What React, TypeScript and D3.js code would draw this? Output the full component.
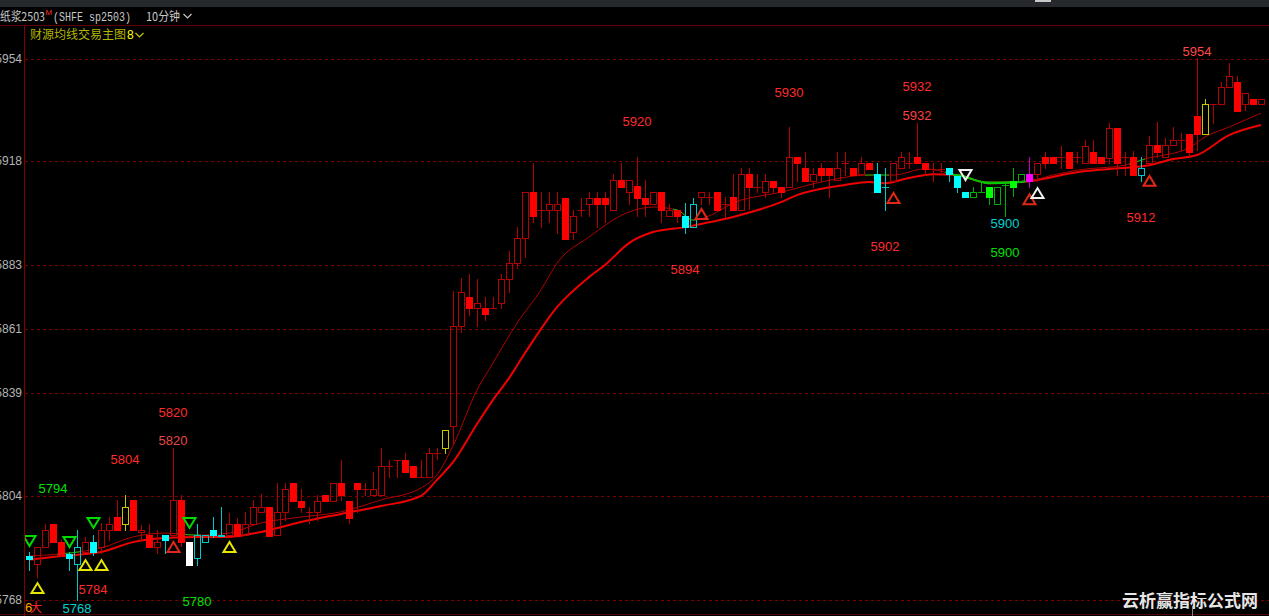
import React, { useEffect } from 'react';
import * as d3 from 'd3';

// 10-minute bars, sp2503 pulp
const open = [
  5783.1, 5780.4, 5786.2, 5794.1, 5787.9, 5783.8, 5780.4, 5784.5, 5787.9, 5786.2,
  5792.1, 5796.5, 5794.1, 5802.4, 5791.4, 5790.3, 5786.2, 5790.3, 5790.3, 5802.4,
  5787.9, 5782.4, 5787.9, 5792.1, 5790.0, 5790.3, 5794.1, 5790.3, 5794.1, 5798.3,
  5800.0, 5790.3, 5798.3, 5808.2, 5802.0, 5798.3, 5798.3, 5804.1, 5802.0, 5808.2,
  5802.0, 5808.2, 5806.2, 5804.1, 5804.1, 5814.1, 5816.1, 5816.1, 5814.1, 5810.3,
  5810.3, 5818.5, 5820.3, 5827.8, 5862.2, 5872.2, 5868.4, 5868.4, 5868.4, 5870.1,
  5878.4, 5883.9, 5892.4, 5908.3, 5902.1, 5902.1, 5902.1, 5906.2, 5894.5, 5902.1,
  5904.1, 5906.2, 5906.2, 5902.1, 5912.4, 5908.3, 5910.3, 5906.2, 5904.1, 5908.3,
  5900.0, 5902.1, 5900.0, 5896.2, 5906.5, 5906.5, 5908.3, 5904.1, 5906.5, 5902.1,
  5914.4, 5910.0, 5908.3, 5912.1, 5910.0, 5910.0, 5920.3, 5916.5, 5912.1, 5916.5,
  5916.5, 5912.4, 5918.2, 5916.5, 5914.4, 5918.2, 5914.4, 5910.0, 5912.1, 5916.5,
  5918.2, 5920.3, 5918.2, 5916.2, 5916.2, 5916.5, 5913.8, 5908.3, 5906.5, 5908.3,
  5910.0, 5904.1, 5910.7, 5912.1, 5912.1, 5914.4, 5914.4, 5920.3, 5920.3, 5920.3,
  5922.0, 5920.3, 5918.2, 5922.0, 5920.3, 5920.0, 5930.3, 5920.3, 5920.3, 5914.1,
  5918.2, 5924.4, 5920.3, 5924.4, 5926.1, 5928.2, 5934.4, 5928.2, 5938.5, 5938.5,
  5944.3, 5946.1, 5938.5, 5940.2, 5938.5,
];
const high = [
  5784.5, 5786.2, 5794.1, 5794.1, 5788.6, 5784.5, 5792.1, 5789.7, 5790.3, 5794.5,
  5796.5, 5802.4, 5804.1, 5802.4, 5793.8, 5794.1, 5792.1, 5790.3, 5820.3, 5804.1,
  5787.9, 5794.1, 5790.3, 5796.5, 5800.0, 5797.9, 5796.2, 5798.3, 5802.4, 5804.4,
  5800.0, 5808.2, 5808.2, 5808.2, 5806.2, 5800.0, 5804.1, 5804.1, 5808.2, 5816.1,
  5802.0, 5808.2, 5808.2, 5812.0, 5820.3, 5816.1, 5816.1, 5818.5, 5814.1, 5816.1,
  5820.3, 5820.3, 5826.4, 5874.2, 5878.7, 5880.1, 5878.4, 5872.2, 5872.2, 5880.1,
  5888.0, 5896.2, 5908.3, 5918.2, 5908.3, 5908.3, 5908.3, 5906.2, 5902.1, 5906.2,
  5908.3, 5908.3, 5908.3, 5914.4, 5918.2, 5912.4, 5920.3, 5912.4, 5908.3, 5908.3,
  5904.1, 5902.1, 5904.5, 5906.2, 5908.3, 5908.3, 5908.3, 5906.5, 5914.4, 5916.5,
  5916.5, 5914.4, 5914.4, 5912.1, 5910.0, 5930.6, 5920.3, 5922.0, 5916.5, 5918.2,
  5916.5, 5922.0, 5922.0, 5916.5, 5920.3, 5918.2, 5918.2, 5916.5, 5918.2, 5922.0,
  5922.0, 5932.0, 5918.2, 5918.2, 5918.2, 5916.5, 5913.8, 5908.3, 5910.0, 5912.1,
  5910.0, 5910.0, 5911.4, 5916.5, 5914.4, 5920.3, 5918.2, 5922.0, 5920.3, 5924.1,
  5922.0, 5922.0, 5926.1, 5926.1, 5920.3, 5932.0, 5930.3, 5922.0, 5922.4, 5920.3,
  5927.5, 5932.3, 5926.8, 5930.6, 5928.5, 5928.2, 5954.3, 5940.2, 5938.5, 5946.1,
  5952.6, 5948.1, 5942.3, 5940.2, 5940.2,
];
const low = [
  5778.3, 5775.9, 5786.2, 5787.9, 5783.1, 5778.3, 5768.0, 5784.5, 5783.5, 5784.2,
  5788.6, 5792.1, 5792.1, 5792.1, 5788.6, 5786.2, 5784.2, 5784.2, 5790.3, 5786.6,
  5780.0, 5780.0, 5787.9, 5789.7, 5790.0, 5790.3, 5790.0, 5790.3, 5794.1, 5798.3,
  5790.0, 5790.3, 5795.5, 5802.0, 5798.3, 5794.5, 5795.5, 5802.0, 5802.0, 5802.4,
  5794.5, 5798.3, 5804.1, 5804.1, 5804.1, 5810.3, 5810.3, 5812.0, 5810.3, 5810.3,
  5810.3, 5816.5, 5818.5, 5822.0, 5860.1, 5866.0, 5862.2, 5864.3, 5868.4, 5868.4,
  5873.9, 5882.1, 5885.9, 5898.0, 5896.2, 5898.0, 5894.2, 5892.1, 5892.1, 5900.0,
  5900.0, 5896.2, 5898.0, 5902.1, 5910.0, 5904.1, 5900.0, 5900.0, 5904.1, 5898.0,
  5900.0, 5898.0, 5894.2, 5896.2, 5904.1, 5904.1, 5902.1, 5899.7, 5902.1, 5902.1,
  5902.4, 5908.3, 5906.5, 5908.3, 5906.5, 5910.0, 5912.1, 5912.1, 5910.0, 5912.1,
  5906.5, 5912.4, 5914.1, 5914.1, 5914.4, 5916.2, 5908.3, 5902.1, 5912.1, 5916.5,
  5916.5, 5918.2, 5914.1, 5912.1, 5915.1, 5912.1, 5908.3, 5906.5, 5906.5, 5908.3,
  5904.1, 5904.1, 5900.0, 5906.9, 5912.1, 5910.0, 5912.1, 5916.5, 5918.2, 5916.5,
  5916.5, 5918.2, 5918.2, 5918.2, 5918.2, 5918.2, 5914.1, 5914.1, 5914.1, 5912.1,
  5918.2, 5920.3, 5920.3, 5924.4, 5922.7, 5920.3, 5922.7, 5928.2, 5932.0, 5938.5,
  5944.3, 5936.1, 5936.4, 5938.5, 5938.5,
];
const close = [
  5782.1, 5786.2, 5792.1, 5787.9, 5783.8, 5782.4, 5786.2, 5787.9, 5784.5, 5792.1,
  5794.1, 5792.1, 5800.0, 5792.1, 5792.1, 5786.2, 5787.9, 5788.6, 5802.4, 5787.9,
  5780.0, 5790.3, 5790.3, 5790.3, 5790.3, 5794.1, 5790.0, 5794.1, 5800.0, 5800.0,
  5790.0, 5798.3, 5806.2, 5802.0, 5800.0, 5798.3, 5802.0, 5802.0, 5808.2, 5804.1,
  5796.2, 5806.2, 5806.2, 5806.2, 5814.1, 5814.1, 5816.1, 5812.0, 5810.3, 5810.3,
  5818.5, 5818.5, 5826.4, 5862.2, 5873.9, 5868.4, 5870.1, 5866.3, 5868.4, 5878.4,
  5883.9, 5892.4, 5908.3, 5900.0, 5902.1, 5904.1, 5904.1, 5892.1, 5900.0, 5902.1,
  5906.2, 5904.1, 5904.1, 5912.4, 5910.0, 5912.4, 5906.2, 5904.1, 5908.3, 5902.1,
  5902.1, 5900.0, 5896.2, 5904.1, 5908.3, 5906.5, 5902.1, 5904.1, 5902.1, 5914.4,
  5910.0, 5910.0, 5912.1, 5910.0, 5908.3, 5920.3, 5918.2, 5912.1, 5914.4, 5914.1,
  5914.1, 5916.5, 5918.2, 5914.1, 5918.2, 5916.2, 5908.3, 5910.0, 5918.2, 5920.3,
  5918.2, 5918.2, 5916.2, 5916.2, 5916.2, 5914.4, 5910.0, 5906.5, 5908.3, 5908.3,
  5906.5, 5910.0, 5910.7, 5910.0, 5914.4, 5912.1, 5918.2, 5918.2, 5918.2, 5920.3,
  5916.5, 5920.3, 5924.1, 5918.2, 5918.2, 5930.3, 5918.2, 5920.3, 5914.1, 5916.5,
  5924.4, 5922.0, 5924.4, 5926.1, 5926.1, 5922.0, 5928.2, 5938.5, 5938.5, 5944.3,
  5948.1, 5936.1, 5942.3, 5938.5, 5940.2,
];

// indicator colour state per bar, as runs
const colorRuns: [string, number][] = [
  ['c', 1], ['r', 4], ['c', 2], ['r', 1], ['c', 1], ['r', 3], ['y', 1], ['r', 4], ['c', 1],
  ['r', 2], ['w', 1], ['c', 4], ['r', 27], ['y', 1], ['r', 29], ['c', 2], ['r', 22], ['c', 2],
  ['r', 7], ['c', 3], ['g', 7], ['m', 1], ['r', 13], ['c', 1], ['r', 7], ['y', 1], ['r', 7],
];

// moving averages (sampled at bar index)
const fastIdx = [0, 9, 13, 17, 21, 25, 29, 34, 39, 44, 49, 51, 53, 56, 58, 61, 64, 66, 70, 75, 78, 81, 83, 89, 94, 99, 105, 108, 112, 116, 120, 124, 128, 131, 137, 140, 142, 145, 147, 150, 154];
const fastVal = [5783.1, 5785.9, 5789.7, 5791.0, 5790.3, 5791.0, 5794.5, 5796.5, 5798.3, 5802.4, 5806.5, 5811.0, 5821.0, 5840.2, 5849.5, 5863.2, 5874.6, 5883.8, 5892.8, 5901.4, 5903.1, 5902.1, 5898.6, 5905.5, 5908.2, 5911.7, 5914.1, 5914.1, 5916.2, 5914.1, 5911.7, 5911.7, 5914.1, 5915.8, 5917.5, 5920.0, 5921.0, 5923.4, 5927.2, 5930.6, 5935.4];
const slowIdx = [0, 4, 9, 13, 17, 21, 25, 29, 34, 39, 44, 49, 51, 53, 56, 58, 60, 62, 66, 70, 72, 75, 78, 82, 84, 88, 94, 96, 102, 105, 107, 110, 113, 116, 120, 125, 131, 135, 140, 143, 146, 150, 154];
const slowVal = [5781.8, 5783.1, 5784.5, 5787.9, 5789.3, 5789.7, 5789.7, 5791.4, 5794.8, 5797.6, 5800.3, 5803.8, 5809.3, 5815.4, 5828.5, 5836.8, 5844.3, 5852.9, 5868.7, 5879.0, 5883.2, 5890.7, 5894.5, 5896.2, 5897.3, 5899.7, 5904.8, 5907.2, 5910.7, 5911.7, 5911.3, 5913.1, 5914.4, 5914.1, 5911.3, 5912.0, 5915.1, 5916.2, 5917.5, 5919.6, 5921.0, 5927.8, 5931.3];
const fastGreen: [number, number][] = [[4, 6], [19, 21], [81, 83], [105, 107], [115, 125], [138, 139]];
const slowGreen: [number, number][] = [[116, 124]];

// signal triangles
const sigIdx = [0, 1, 5, 7, 8, 9, 18, 20, 25, 84, 108, 117, 125, 126, 140];
const sigPrice = [5788.3, 5772.1, 5787.9, 5780.0, 5794.5, 5780.0, 5786.2, 5794.5, 5786.2, 5900.7, 5906.2, 5914.1, 5905.8, 5907.9, 5912.1];
const sigDir = ['down', 'up', 'down', 'up', 'down', 'up', 'up', 'down', 'up', 'up', 'up', 'down', 'up', 'up', 'up'];
const sigColor = ['#00dc00', '#e6e600', '#00dc00', '#e6e600', '#00dc00', '#e6e600', '#e02818', '#00dc00', '#e6e600', '#e02818', '#e02818', '#f0f0f0', '#e02818', '#f0f0f0', '#e02818'];

// price annotations
const noteText = ['5794', '5804', '5820', '5820', '5784', '5768', '5780', '5920', '5894', '5930', '5932', '5932', '5902', '5900', '5900', '5912', '5954'];
const noteIdx = [3, 12, 18, 18, 8, 6, 21, 76, 82, 95, 111, 111, 107, 122, 122, 139, 146];
const notePrice = [5804.8, 5814.8, 5830.9, 5821.3, 5770.1, 5763.5, 5766.0, 5930.9, 5880.1, 5940.9, 5943.0, 5933.0, 5888.0, 5895.9, 5885.9, 5897.9, 5955.0];
const noteColor = ['#00e000', '#ff2a2a', '#ff2a2a', '#e84848', '#ff2a2a', '#00d0d0', '#00e000', '#ff2a2a', '#ff2a2a', '#ff2a2a', '#ff2a2a', '#ff4040', '#ff2a2a', '#00d0d0', '#00e000', '#ff2a2a', '#ff4848'];

const tickValues = [5768, 5803.8, 5839.2, 5861.2, 5883.2, 5918.9, 5954];
const tickLabels = ['5768', '5804', '5839', '5861', '5883', '5918', '5954'];

const palette: Record<string, { fill: string; stroke: string; wick: string }> = {
  r: { fill: '#ff0000', stroke: '#b40000', wick: '#b40000' },
  c: { fill: '#00ffff', stroke: '#00c8c8', wick: '#00c8c8' },
  g: { fill: '#00ff00', stroke: '#00b000', wick: '#00b000' },
  y: { fill: '#c8c800', stroke: '#c8c800', wick: '#c8c800' },
  w: { fill: '#ffffff', stroke: '#ffffff', wick: '#ffffff' },
  m: { fill: '#ff00ff', stroke: '#ff00ff', wick: '#c000c0' },
};

const W = 1269;
const H = 616;

const App: React.FC = () => {
  useEffect(() => {
    document.body.style.margin = '0';
    document.body.style.background = '#000';
  }, []);

  const colors: string[] = colorRuns.flatMap(([c, n]) => Array.from({ length: n }, () => c));
  const xc = d3.scaleLinear().domain([0, open.length - 1]).range([29, 1261]);
  const y = d3.scaleLinear().domain([5768, 5954]).range([600, 59]);
  const py = (v: number) => Math.round(y(v));

  const fastLine = d3
    .line<number>()
    .x((_, k) => xc(fastIdx[k]))
    .y((d) => y(d))
    .curve(d3.curveMonotoneX);
  const slowLine = d3
    .line<number>()
    .x((_, k) => xc(slowIdx[k]))
    .y((d) => y(d))
    .curve(d3.curveMonotoneX);

  const numFont = '"Liberation Sans", Arial, sans-serif';
  const cjkFont = '"Noto Sans CJK SC", sans-serif';

  return (
    <svg width={W} height={H} style={{ display: 'block', background: '#000' }}>
      <defs>
        <clipPath id="plot">
          <rect x={25} y={26} width={W - 25} height={H - 26} />
        </clipPath>
        <clipPath id="fastG">
          {fastGreen.map(([a, b], k) => (
            <rect key={k} x={xc(a) - 4} y={0} width={xc(b) - xc(a) + 8} height={H} />
          ))}
        </clipPath>
        <clipPath id="slowG">
          {slowGreen.map(([a, b], k) => (
            <rect key={k} x={xc(a) - 4} y={0} width={xc(b) - xc(a) + 8} height={H} />
          ))}
        </clipPath>
      </defs>

      {/* title bar */}
      <rect x={0} y={0} width={W} height={7} fill="#25282c" />
      <rect x={1035} y={0} width={16} height={2} fill="#c8c8c8" />
      <text x={0} y={21} fill="#c8c8c8" fontFamily={cjkFont} fontSize={12} textLength={45} lengthAdjust="spacingAndGlyphs">纸浆2503</text>
      <text x={45.5} y={15} fill="#ff3030" fontFamily={numFont} fontSize={8}>M</text>
      <text x={53} y={21} fill="#c8c8c8" fontFamily='"Liberation Mono", monospace' fontSize={12} textLength={78} lengthAdjust="spacingAndGlyphs">(SHFE sp2503)</text>
      <text x={146} y={21} fill="#c8c8c8" fontFamily={cjkFont} fontSize={12} textLength={34} lengthAdjust="spacingAndGlyphs">10分钟</text>
      <polyline points="183.5,14 187.5,18 191.5,14" fill="none" stroke="#c8c8c8" strokeWidth={1.2} />

      <line x1={0} x2={W} y1={25.5} y2={25.5} stroke="#640000" />
      <line x1={24.5} x2={24.5} y1={25} y2={H} stroke="#800000" />
      <line x1={0} x2={W} y1={614.5} y2={614.5} stroke="#500000" />

      <text x={30} y={39} fill="#b4b400" fontFamily={cjkFont} fontSize={12} textLength={96} lengthAdjust="spacingAndGlyphs">财源均线交易主图</text>
      <text x={127} y={39} fill="#ffff00" fontFamily={numFont} fontSize={12}>8</text>
      <polyline points="135.5,33 139.5,37 143.5,33" fill="none" stroke="#c8c800" strokeWidth={1.2} />

      {/* grid and axis labels */}
      {tickValues.map((v, k) => (
        <g key={k}>
          <line x1={25} x2={W} y1={py(v) + 0.5} y2={py(v) + 0.5} stroke="#7a0000" strokeDasharray="3,3" />
          <text x={22} y={py(v) + 4} textAnchor="end" fill="#b4b4b4" fontFamily={numFont} fontSize={12}>
            {tickLabels[k]}
          </text>
        </g>
      ))}

      <g clipPath="url(#plot)">
        {/* moving averages */}
        <path d={slowLine(slowVal) || ''} fill="none" stroke="#f00000" strokeWidth={2} />
        <path d={fastLine(fastVal) || ''} fill="none" stroke="#b00000" strokeWidth={1} />
        <path d={slowLine(slowVal) || ''} fill="none" stroke="#00d000" strokeWidth={2} clipPath="url(#slowG)" />
        <path d={fastLine(fastVal) || ''} fill="none" stroke="#00c000" strokeWidth={1} clipPath="url(#fastG)" />

        {/* candles */}
        <g shapeRendering="crispEdges">
          {open.map((o, i) => {
            const c = close[i];
            const p = palette[colors[i]] || palette.r;
            const px = Math.round(xc(i));
            const yH = py(high[i]);
            const yL = py(low[i]);
            const yT = py(Math.max(o, c));
            const yB = py(Math.min(o, c));
            const wx = px + 0.5;
            if (yB - yT < 1) {
              return (
                <g key={i}>
                  <line x1={wx} x2={wx} y1={yH} y2={yL + 1} stroke={p.wick} />
                  <line x1={px - 3} x2={px + 4} y1={yT + 0.5} y2={yT + 0.5} stroke={p.stroke} />
                </g>
              );
            }
            if (c >= o) {
              return (
                <g key={i}>
                  <line x1={wx} x2={wx} y1={yH} y2={yT} stroke={p.wick} />
                  <line x1={wx} x2={wx} y1={yB} y2={yL + 1} stroke={p.wick} />
                  <rect x={px - 2.5} y={yT + 0.5} width={6} height={yB - yT} fill="none" stroke={p.stroke} />
                </g>
              );
            }
            return (
              <g key={i}>
                <line x1={wx} x2={wx} y1={yH} y2={yL + 1} stroke={p.wick} />
                <rect x={px - 3} y={yT} width={7} height={yB - yT + 1} fill={p.fill} />
              </g>
            );
          })}
        </g>

        {/* signal triangles */}
        {sigIdx.map((i, k) => {
          const cx = Math.round(xc(i)) + 0.5;
          const cy = y(sigPrice[k]);
          const pts =
            sigDir[k] === 'up'
              ? `${cx - 6},${cy + 5} ${cx + 6},${cy + 5} ${cx},${cy - 5}`
              : `${cx - 6},${cy - 5} ${cx + 6},${cy - 5} ${cx},${cy + 5}`;
          return <polygon key={k} points={pts} fill="none" stroke={sigColor[k]} strokeWidth={2} strokeLinejoin="miter" />;
        })}

        {/* price notes */}
        {noteText.map((t, k) => (
          <text key={k} x={xc(noteIdx[k])} y={y(notePrice[k])} textAnchor="middle" fill={noteColor[k]} fontFamily={numFont} fontSize={13}>
            {t}
          </text>
        ))}
      </g>

      <text x={25} y={612} fill="#ffa000" fontFamily={numFont} fontSize={13}>6</text>
      <text x={30} y={612} fill="#ff2020" fontFamily={cjkFont} fontSize={12}>大</text>

      {/* watermark */}
      <line x1={1192.5} x2={1192.5} y1={606} y2={H} stroke="#808080" />
      <text x={1122} y={607} fill="#e6e6e6" fontFamily={cjkFont} fontWeight="bold" fontSize={17} textLength={136} lengthAdjust="spacingAndGlyphs">
        云析赢指标公式网
      </text>
    </svg>
  );
};

export default App;
